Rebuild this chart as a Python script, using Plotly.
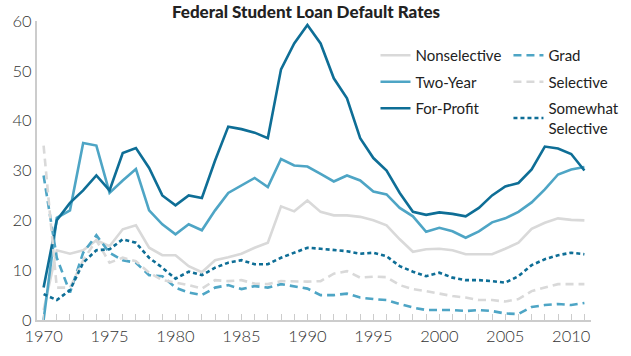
import plotly.graph_objects as go

years = list(range(1970, 2012))

for_profit = [6.5, 20, 23.5, 26, 29, 26, 33.5, 34.5, 30.5, 25, 23, 25, 24.5, 32, 38.8, 38.3, 37.6, 36.5,
              50.3, 55.5, 59.2, 55.5, 48.5, 44.5, 36.5, 32.5, 30, 25.5, 21.7, 21.1, 21.6, 21.3, 20.8,
              22.5, 25, 26.8, 27.5, 30.2, 34.8, 34.4, 33.3, 30]
two_year = [0, 20.5, 22, 35.5, 35, 25.5, 28, 30.3, 22, 19.2, 17.2, 19.2, 18, 22, 25.5, 27, 28.5, 26.7,
            32.3, 31, 30.8, 29.3, 27.8, 29, 28, 25.8, 25.2, 22.5, 20.8, 17.7, 18.5, 17.8, 16.5,
            17.8, 19.6, 20.4, 21.7, 23.6, 26.2, 29.2, 30.2, 30.7]
nonselective = [2, 14, 13.3, 14, 16, 14.8, 18.2, 19, 14.5, 13, 13, 10.8, 9.6, 12, 12.6, 13.3, 14.5, 15.5,
                22.8, 21.8, 24, 21.7, 21, 21, 20.7, 20, 19, 16.2, 13.7, 14.2, 14.3, 14, 13.2,
                13.2, 13.2, 14.3, 15.5, 18.3, 19.5, 20.4, 20.1, 20.0]
grad = [29, 12.5, 5.5, 13.5, 17, 13.5, 12, 11.5, 9, 8.8, 6.5, 5.5, 5, 6.5, 7, 6.2, 6.8, 6.5,
        7.2, 6.7, 6.3, 5, 5, 5.3, 4.5, 4.2, 4, 3.2, 2.5, 2, 2, 2, 1.8,
        2, 1.8, 1.3, 1.2, 2.6, 3, 3.2, 3, 3.4]
selective = [35, 6.5, 6.5, 12, 16, 11.5, 12.5, 11.8, 9.5, 8, 7.5, 7, 6.3, 8, 7.8, 8, 7.3, 7.2,
             7.8, 7.7, 7.7, 7.8, 9.3, 9.8, 8.5, 8.7, 8.6, 7, 6.2, 5.8, 5.3, 4.8, 4.5,
             4, 4, 3.7, 4.2, 5.8, 6.5, 7.2, 7.2, 7.2]
somewhat_selective = [5.2, 4, 6, 11.5, 14, 14.2, 16.2, 15.5, 12.5, 10.5, 8.3, 9.7, 9, 10.5, 11.5, 12, 11.2, 11.2,
                      12.5, 13.5, 14.5, 14.3, 14, 13.8, 13.3, 13.5, 12.8, 10.8, 9.7, 8.8, 9.5, 8.5, 8,
                      8, 7.8, 7.5, 8.8, 11, 12.2, 13, 13.5, 13.2]

DARK = "#0e6e96"
MID = "#4ea5c5"
LIGHT = "#d9d9d9"
FONT = "Lato"

series = [
    ("Nonselective", nonselective, LIGHT, "solid", "legend"),
    ("Two-Year", two_year, MID, "solid", "legend"),
    ("For-Profit", for_profit, DARK, "solid", "legend"),
    ("Grad", grad, MID, "8px,5px", "legend2"),
    ("Selective", selective, LIGHT, "8px,5px", "legend2"),
    ("Somewhat<br>Selective", somewhat_selective, DARK, "4px,3px", "legend2"),
]

fig = go.Figure()
for i, (name, vals, color, dash, leg) in enumerate(series):
    fig.add_trace(go.Scatter(
        x=years, y=vals, name=name, mode="lines",
        line=dict(color=color, width=2.6, dash=dash),
        legend=leg, legendgroup="g%d" % i,
    ))

legend_common = dict(
    font=dict(family=FONT, size=15, color="#222"),
    bgcolor="rgba(0,0,0,0)",
    xanchor="left", yanchor="top",
    itemwidth=30,
    tracegroupgap=4,
)

tick_font = dict(family=FONT, size=16.5, color="#333", weight=300)

fig.update_layout(
    width=631, height=356,
    margin=dict(l=37, r=40, t=21, b=36, autoexpand=False),
    paper_bgcolor="white", plot_bgcolor="white",
    font=dict(family=FONT, size=15, color="#333"),
    title=dict(text="Federal Student Loan Default Rates", x=0.485, xanchor="center",
               yref="container", y=0.965, yanchor="middle", automargin=False,
               font=dict(family=FONT, size=17, color="#222", weight=900)),
    showlegend=True,
    legend=dict(x=0.611, y=0.94, **legend_common),
    legend2=dict(x=0.851, y=0.94, **legend_common),
    xaxis=dict(
        range=[1969.5, 2011.5], dtick=5, tick0=1970, automargin=False,
        showgrid=False, zeroline=False,
        showline=True, linecolor="#cccccc", linewidth=2,
        ticks="inside", ticklen=6, tickcolor="#cccccc", tickwidth=1,
        minor=dict(dtick=1, ticks="inside", ticklen=6, tickcolor="#cccccc", tickwidth=1),
        tickfont=tick_font,
    ),
    yaxis=dict(
        range=[0, 60], dtick=10, automargin=False,
        showgrid=False, zeroline=False,
        showline=True, linecolor="#cccccc", linewidth=2,
        ticks="", tickfont=tick_font,
    ),
)

fig.write_html("out.html", config={"displayModeBar": False},
               post_script="document.body.style.margin='0';")
